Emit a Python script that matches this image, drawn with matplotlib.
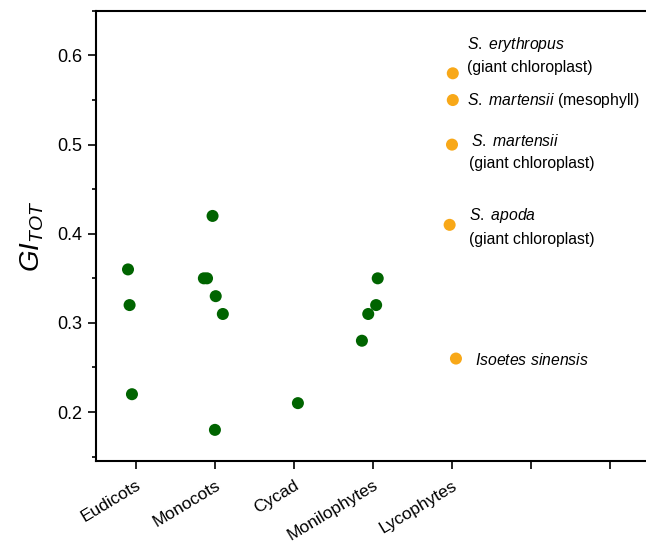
import matplotlib
matplotlib.use("Agg")
import matplotlib.pyplot as plt
from matplotlib.transforms import ScaledTranslation

plt.rcParams["font.family"] = ["Liberation Sans", "DejaVu Sans"]
plt.rcParams["mathtext.fontset"] = "custom"
plt.rcParams["mathtext.rm"] = "Liberation Sans"
plt.rcParams["mathtext.it"] = "Liberation Sans:italic"

# -----------------------------
# Dados
# -----------------------------
categorias = ["Eudicots", "Monocots", "Cycad", "Monilophytes", "Lycophytes", "", ""]

# grupo (1..5), deslocamento horizontal (jitter) e valor de GI_TOT
grupo_verde = [1, 1, 1, 2, 2, 2, 2, 2, 2, 3, 4, 4, 4, 4]
jitter_verde = [-0.10, -0.08, -0.05, -0.14, -0.10, 0.01, 0.10, 0.0, -0.03, 0.05, -0.14, -0.06, 0.04, 0.06]
gi_verde = [0.36, 0.32, 0.22, 0.35, 0.35, 0.33, 0.31, 0.18, 0.42, 0.21, 0.28, 0.31, 0.32, 0.35]

grupo_laranja = [5, 5, 5, 5, 5]
jitter_laranja = [0.01, 0.01, 0.0, -0.03, 0.05]
gi_laranja = [0.58, 0.55, 0.50, 0.41, 0.26]

rotulos = [
    (r"$\it{S.\ erythropus}$", 0.612),
    ("(giant chloroplast)", 0.587),
    (r"$\it{S.\ martensii}$ (mesophyll)", 0.550),
    (r"$\it{S.\ martensii}$", 0.504),
    ("(giant chloroplast)", 0.479),
    (r"$\it{S.\ apoda}$", 0.421),
    ("(giant chloroplast)", 0.394),
    (r"$\it{Isoetes\ sinensis}$", 0.258),
]
rotulos_dx = [5.19, 5.19, 5.19, 5.24, 5.22, 5.21, 5.21, 5.29]

# -----------------------------
# Gráfico
# -----------------------------
fig = plt.figure(figsize=(6.46, 5.45), dpi=100)
ax = fig.add_axes([0.148, 0.154, 0.852, 0.826])

x_verde = [g + j for g, j in zip(grupo_verde, jitter_verde)]
x_laranja = [g + j for g, j in zip(grupo_laranja, jitter_laranja)]
ax.scatter(x_verde, gi_verde, s=75, color="#006400", edgecolors="none", zorder=3)
ax.scatter(x_laranja, gi_laranja, s=75, color="#f8a818", edgecolors="none", zorder=3)

for (txt, y), x in zip(rotulos, rotulos_dx):
    ax.text(x, y, txt, fontsize=11.3, va="center", ha="left")

ax.set_xlim(0.49, 7.455)
ax.set_ylim(0.145, 0.65)
ax.set_xticks(range(1, 8))
ax.set_xticklabels(categorias, rotation=31, ha="right", rotation_mode="anchor", fontsize=12.5)
desloc = ScaledTranslation(8 / 100, 0, fig.dpi_scale_trans)
for lbl in ax.get_xticklabels():
    lbl.set_transform(lbl.get_transform() + desloc)
ax.set_yticks([0.2, 0.3, 0.4, 0.5, 0.6])
ax.set_yticks([0.15, 0.25, 0.35, 0.45, 0.55, 0.65], minor=True)
ax.tick_params(axis="y", labelsize=13, width=1.2, length=6, direction="out")
ax.tick_params(axis="y", which="minor", width=1.2, length=3)
ax.tick_params(axis="x", width=1.2, length=6, direction="out", pad=6)
ax.set_ylabel(r"$GI_{TOT}$", fontsize=20, labelpad=8)

ax.spines["right"].set_visible(False)
for lado in ["left", "top", "bottom"]:
    ax.spines[lado].set_linewidth(1.5)

fig.savefig("out.png", dpi=100)
